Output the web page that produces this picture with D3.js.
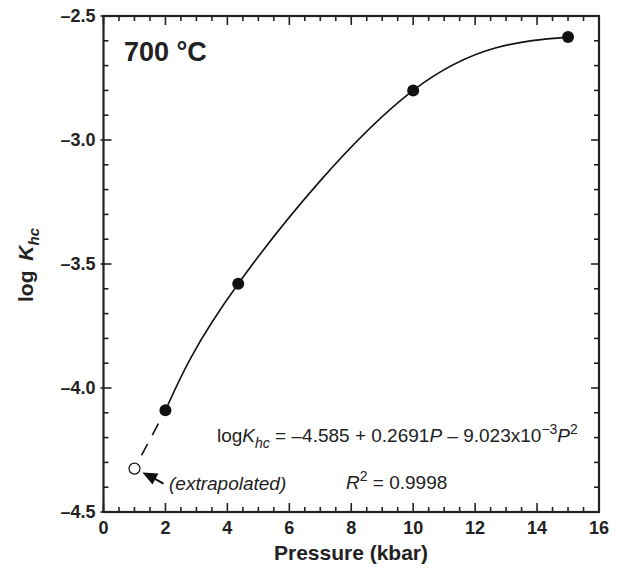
<!DOCTYPE html>
<html><head><meta charset="utf-8">
<script src="https://cdn.jsdelivr.net/npm/d3@7"></script>
<style>body{margin:0;background:#fff}svg{display:block;font-family:Arial,"Liberation Sans",sans-serif}</style>
</head><body>
<svg id="c" width="620" height="570"></svg>
<script>
// Data
const pressure = [2, 4.35, 10, 15];
const logK = [-4.09, -3.58, -2.80, -2.585];
const extrapP = [1];
const extrapLogK = [-4.325];
const xTicks = [0, 2, 4, 6, 8, 10, 12, 14, 16];
const yTicks = [-2.5, -3.0, -3.5, -4.0, -4.5];

const svg = d3.select("#c");
const L = 103.5, R = 599, T = 16, B = 512;
const x = d3.scaleLinear().domain([0, 16]).range([L, R]);
const y = d3.scaleLinear().domain([-4.5, -2.5]).range([B, T]);

const g = svg.append("g");
const xMinor = d3.range(0, 16.01, 0.5);
const yMinor = d3.range(-4.5, -2.499, 0.1).map(v => +v.toFixed(2));
const isMajX = v => Math.abs(v / 2 - Math.round(v / 2)) < 1e-6;
const isMajY = v => Math.abs(v / 0.5 - Math.round(v / 0.5)) < 1e-6;

xMinor.forEach(v => {
  const len = isMajX(v) ? 9 : 5;
  g.append("line").attr("x1", x(v)).attr("x2", x(v)).attr("y1", B).attr("y2", B - len).attr("stroke", "#222").attr("stroke-width", 1.6);
  g.append("line").attr("x1", x(v)).attr("x2", x(v)).attr("y1", T).attr("y2", T + len).attr("stroke", "#222").attr("stroke-width", 1.6);
});
yMinor.forEach(v => {
  const maj = isMajY(v);
  const len = maj ? 8 : 5;
  g.append("line").attr("x1", L - (maj ? 3 : 0)).attr("x2", L + len).attr("y1", y(v)).attr("y2", y(v)).attr("stroke", "#222").attr("stroke-width", 1.6);
  g.append("line").attr("x1", R).attr("x2", R - len).attr("y1", y(v)).attr("y2", y(v)).attr("stroke", "#222").attr("stroke-width", 1.6);
});
g.append("rect").attr("x", L).attr("y", T).attr("width", R - L).attr("height", B - T)
  .attr("fill", "none").attr("stroke", "#222").attr("stroke-width", 2.2);

const fmtY = v => "\u2013" + Math.abs(v).toFixed(1);
g.selectAll(".xl").data(xTicks).enter().append("text")
  .attr("x", d => x(d)).attr("y", B + 22).attr("text-anchor", "middle")
  .attr("font-size", 18).attr("font-weight", "bold").attr("fill", "#222").text(d => d);
g.selectAll(".yl").data(yTicks).enter().append("text")
  .attr("x", L - 8).attr("y", d => y(d) + 6).attr("text-anchor", "end")
  .attr("font-size", 18).attr("font-weight", "bold").attr("fill", "#222").text(fmtY);

svg.append("text").attr("x", 351).attr("y", 560).attr("text-anchor", "middle")
  .attr("font-size", 21).attr("font-weight", "bold").attr("fill", "#222").text("Pressure (kbar)");
const yt = svg.append("text").attr("transform", `translate(33,265) rotate(-90)`)
  .attr("text-anchor", "middle").attr("font-size", 21).attr("font-weight", "bold").attr("fill", "#222");
yt.append("tspan").text("log ");
yt.append("tspan").attr("font-style", "italic").attr("dx", 4).text("K");
yt.append("tspan").attr("font-style", "italic").attr("font-size", 15).attr("dy", 6).text("hc");

svg.append("text").attr("x", 124).attr("y", 61).attr("font-size", 27).attr("font-weight", "bold").attr("fill", "#222").text("700 \u00b0C");

// fitted curve (through measured points)
const pts = pressure.map((p, i) => [p, logK[i]]);
const line = d3.line().x(d => x(d[0])).y(d => y(d[1])).curve(d3.curveNatural);
svg.append("path").attr("d", line(pts)).attr("fill", "none").attr("stroke", "#111").attr("stroke-width", 1.6);

// dashed extrapolation
const e0 = [x(extrapP[0]), y(extrapLogK[0])], e1 = [x(pressure[0]), y(logK[0])];
const dx = e0[0] - e1[0], dy = e0[1] - e1[1], dl = Math.hypot(dx, dy);
svg.append("line")
  .attr("x1", e1[0] + dx / dl * 15).attr("y1", e1[1] + dy / dl * 15)
  .attr("x2", e0[0] - dx / dl * 9).attr("y2", e0[1] - dy / dl * 9)
  .attr("stroke", "#111").attr("stroke-width", 1.6).attr("stroke-dasharray", "13,10");

svg.selectAll(".pt").data(pts).enter().append("circle")
  .attr("cx", d => x(d[0])).attr("cy", d => y(d[1])).attr("r", 6).attr("fill", "#111");
svg.selectAll(".op").data(extrapP.map((p, i) => [p, extrapLogK[i]])).enter().append("circle")
  .attr("cx", d => x(d[0])).attr("cy", d => y(d[1])).attr("r", 5.5).attr("fill", "#fff").attr("stroke", "#111").attr("stroke-width", 1.2);

// arrow
const ax = e0[0] + 8, ay = e0[1] + 4;
svg.append("path").attr("d", `M${ax},${ay} L${ax + 16},${ay + 1} L${ax + 10},${ay + 12} Z`).attr("fill", "#111");
svg.append("line").attr("x1", ax + 12).attr("y1", ay + 6).attr("x2", ax + 21).attr("y2", ay + 11).attr("stroke", "#111").attr("stroke-width", 2);
svg.append("text").attr("x", 169).attr("y", 490).attr("font-size", 19).attr("font-style", "italic").attr("fill", "#222").text("(extrapolated)");

const eq = svg.append("text").attr("x", 217).attr("y", 442).attr("font-size", 19).attr("fill", "#222");
eq.append("tspan").text("log");
eq.append("tspan").attr("font-style", "italic").text("K");
eq.append("tspan").attr("font-style", "italic").attr("font-size", 14).attr("dy", 6).text("hc");
eq.append("tspan").attr("dy", -6).text(" = \u20134.585 + 0.2691");
eq.append("tspan").attr("font-style", "italic").text("P");
eq.append("tspan").text(" \u2013 9.023x10");
eq.append("tspan").attr("font-size", 14).attr("dy", -8).text("\u22123");
eq.append("tspan").attr("font-style", "italic").attr("dy", 8).text("P");
eq.append("tspan").attr("font-size", 14).attr("dy", -8).text("2");

const r2 = svg.append("text").attr("x", 346).attr("y", 489).attr("font-size", 19).attr("fill", "#222");
r2.append("tspan").attr("font-style", "italic").text("R");
r2.append("tspan").attr("font-size", 14).attr("dy", -8).text("2");
r2.append("tspan").attr("dy", 8).text(" = 0.9998");
</script>
</body></html>
